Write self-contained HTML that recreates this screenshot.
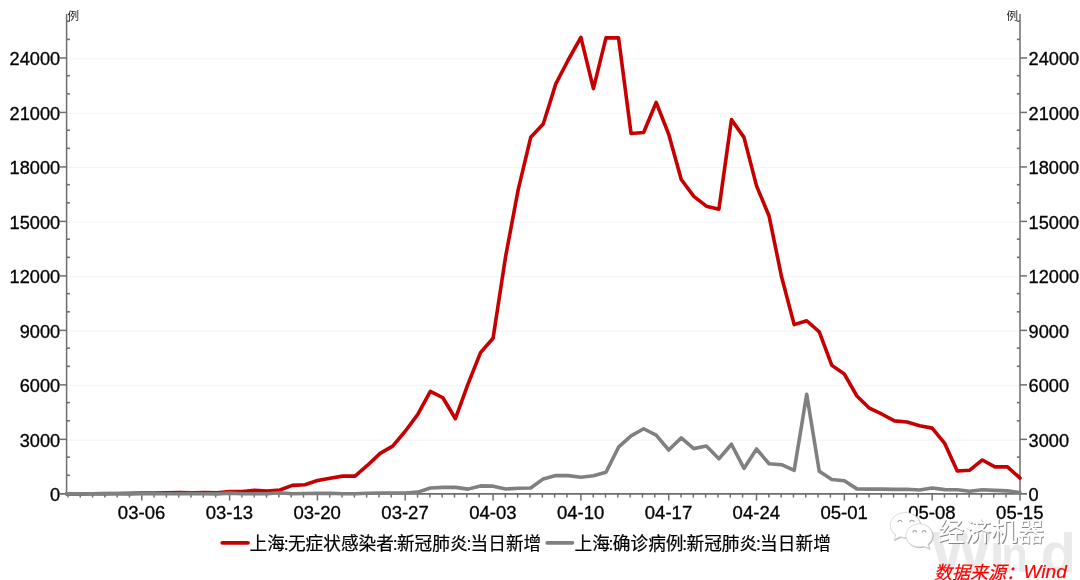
<!DOCTYPE html>
<html lang="zh-CN">
<head>
<meta charset="utf-8">
<title>上海:无症状感染者:新冠肺炎:当日新增</title>
<style>
html,body{margin:0;padding:0;background:#fff;}
body{width:1080px;height:580px;overflow:hidden;}
svg{display:block;}
</style>
</head>
<body>
<svg width="1080" height="580" viewBox="0 0 1080 580">
<rect width="1080" height="580" fill="#ffffff"/>
<text font-family="'Liberation Sans',sans-serif" font-weight="bold" fill="#eaeaea"><tspan x="930.54" y="572.00" font-size="57.85" textLength="61.13" lengthAdjust="spacingAndGlyphs">W</tspan><tspan x="989.58" y="572.00" font-size="54.93" textLength="15.19" lengthAdjust="spacingAndGlyphs">i</tspan><tspan x="1001.56" y="572.00" font-size="50.88" textLength="26.31" lengthAdjust="spacingAndGlyphs">n</tspan><tspan x="1040.84" y="571.77" font-size="54.60" textLength="35.15" lengthAdjust="spacingAndGlyphs">d</tspan></text>
<line x1="67" x2="1019.5" y1="440.16" y2="440.16" stroke="#f3f3f3" stroke-width="1"/>
<line x1="67" x2="1019.5" y1="385.68" y2="385.68" stroke="#f3f3f3" stroke-width="1"/>
<line x1="67" x2="1019.5" y1="331.19" y2="331.19" stroke="#f3f3f3" stroke-width="1"/>
<line x1="67" x2="1019.5" y1="276.70" y2="276.70" stroke="#f3f3f3" stroke-width="1"/>
<line x1="67" x2="1019.5" y1="222.21" y2="222.21" stroke="#f3f3f3" stroke-width="1"/>
<line x1="67" x2="1019.5" y1="167.73" y2="167.73" stroke="#f3f3f3" stroke-width="1"/>
<line x1="67" x2="1019.5" y1="113.24" y2="113.24" stroke="#f3f3f3" stroke-width="1"/>
<line x1="67" x2="1019.5" y1="58.75" y2="58.75" stroke="#f3f3f3" stroke-width="1"/>
<g stroke="#6e6e6e" stroke-width="1.5" fill="none">
<line x1="66.60" x2="66.60" y1="14" y2="494.60"/>
<line x1="1020.00" x2="1020.00" y1="14" y2="500.5"/>
<line x1="60" x2="1027" y1="493.85" y2="493.85" stroke-width="1.7"/>
</g>
<g stroke="#6e6e6e" stroke-width="1.5" fill="none">
<line x1="66.5" x2="69.9" y1="475.29" y2="475.29" stroke-width="1.6"/>
<line x1="1016.9" x2="1020" y1="475.29" y2="475.29" stroke-width="1.6"/>
<line x1="66.5" x2="69.9" y1="457.13" y2="457.13" stroke-width="1.6"/>
<line x1="1016.9" x2="1020" y1="457.13" y2="457.13" stroke-width="1.6"/>
<line x1="60" x2="66.5" y1="439.36" y2="439.36"/>
<line x1="1020" x2="1027" y1="439.36" y2="439.36"/>
<line x1="66.5" x2="69.9" y1="420.80" y2="420.80" stroke-width="1.6"/>
<line x1="1016.9" x2="1020" y1="420.80" y2="420.80" stroke-width="1.6"/>
<line x1="66.5" x2="69.9" y1="402.64" y2="402.64" stroke-width="1.6"/>
<line x1="1016.9" x2="1020" y1="402.64" y2="402.64" stroke-width="1.6"/>
<line x1="60" x2="66.5" y1="384.88" y2="384.88"/>
<line x1="1020" x2="1027" y1="384.88" y2="384.88"/>
<line x1="66.5" x2="69.9" y1="366.31" y2="366.31" stroke-width="1.6"/>
<line x1="1016.9" x2="1020" y1="366.31" y2="366.31" stroke-width="1.6"/>
<line x1="66.5" x2="69.9" y1="348.15" y2="348.15" stroke-width="1.6"/>
<line x1="1016.9" x2="1020" y1="348.15" y2="348.15" stroke-width="1.6"/>
<line x1="60" x2="66.5" y1="330.39" y2="330.39"/>
<line x1="1020" x2="1027" y1="330.39" y2="330.39"/>
<line x1="66.5" x2="69.9" y1="311.83" y2="311.83" stroke-width="1.6"/>
<line x1="1016.9" x2="1020" y1="311.83" y2="311.83" stroke-width="1.6"/>
<line x1="66.5" x2="69.9" y1="293.66" y2="293.66" stroke-width="1.6"/>
<line x1="1016.9" x2="1020" y1="293.66" y2="293.66" stroke-width="1.6"/>
<line x1="60" x2="66.5" y1="275.90" y2="275.90"/>
<line x1="1020" x2="1027" y1="275.90" y2="275.90"/>
<line x1="66.5" x2="69.9" y1="257.34" y2="257.34" stroke-width="1.6"/>
<line x1="1016.9" x2="1020" y1="257.34" y2="257.34" stroke-width="1.6"/>
<line x1="66.5" x2="69.9" y1="239.17" y2="239.17" stroke-width="1.6"/>
<line x1="1016.9" x2="1020" y1="239.17" y2="239.17" stroke-width="1.6"/>
<line x1="60" x2="66.5" y1="221.41" y2="221.41"/>
<line x1="1020" x2="1027" y1="221.41" y2="221.41"/>
<line x1="66.5" x2="69.9" y1="202.85" y2="202.85" stroke-width="1.6"/>
<line x1="1016.9" x2="1020" y1="202.85" y2="202.85" stroke-width="1.6"/>
<line x1="66.5" x2="69.9" y1="184.69" y2="184.69" stroke-width="1.6"/>
<line x1="1016.9" x2="1020" y1="184.69" y2="184.69" stroke-width="1.6"/>
<line x1="60" x2="66.5" y1="166.93" y2="166.93"/>
<line x1="1020" x2="1027" y1="166.93" y2="166.93"/>
<line x1="66.5" x2="69.9" y1="148.36" y2="148.36" stroke-width="1.6"/>
<line x1="1016.9" x2="1020" y1="148.36" y2="148.36" stroke-width="1.6"/>
<line x1="66.5" x2="69.9" y1="130.20" y2="130.20" stroke-width="1.6"/>
<line x1="1016.9" x2="1020" y1="130.20" y2="130.20" stroke-width="1.6"/>
<line x1="60" x2="66.5" y1="112.44" y2="112.44"/>
<line x1="1020" x2="1027" y1="112.44" y2="112.44"/>
<line x1="66.5" x2="69.9" y1="93.87" y2="93.87" stroke-width="1.6"/>
<line x1="1016.9" x2="1020" y1="93.87" y2="93.87" stroke-width="1.6"/>
<line x1="66.5" x2="69.9" y1="75.71" y2="75.71" stroke-width="1.6"/>
<line x1="1016.9" x2="1020" y1="75.71" y2="75.71" stroke-width="1.6"/>
<line x1="60" x2="66.5" y1="57.95" y2="57.95"/>
<line x1="1020" x2="1027" y1="57.95" y2="57.95"/>
<line x1="66.5" x2="69.9" y1="39.39" y2="39.39" stroke-width="1.6"/>
<line x1="1016.9" x2="1020" y1="39.39" y2="39.39" stroke-width="1.6"/>
<line x1="66.5" x2="69.9" y1="21.23" y2="21.23" stroke-width="1.6"/>
<line x1="1016.9" x2="1020" y1="21.23" y2="21.23" stroke-width="1.6"/>
<line x1="141.78" x2="141.78" y1="493.85" y2="500.5"/>
<line x1="229.60" x2="229.60" y1="493.85" y2="500.5"/>
<line x1="317.42" x2="317.42" y1="493.85" y2="500.5"/>
<line x1="405.24" x2="405.24" y1="493.85" y2="500.5"/>
<line x1="493.07" x2="493.07" y1="493.85" y2="500.5"/>
<line x1="580.89" x2="580.89" y1="493.85" y2="500.5"/>
<line x1="668.71" x2="668.71" y1="493.85" y2="500.5"/>
<line x1="756.53" x2="756.53" y1="493.85" y2="500.5"/>
<line x1="844.36" x2="844.36" y1="493.85" y2="500.5"/>
<line x1="932.18" x2="932.18" y1="493.85" y2="500.5"/>
<line x1="129.47" x2="129.47" y1="493.85" y2="497.6"/>
<line x1="117.16" x2="117.16" y1="493.85" y2="497.6"/>
<line x1="104.85" x2="104.85" y1="493.85" y2="497.6"/>
<line x1="92.54" x2="92.54" y1="493.85" y2="497.6"/>
<line x1="80.23" x2="80.23" y1="493.85" y2="497.6"/>
<line x1="67.92" x2="67.92" y1="493.85" y2="497.6"/>
<line x1="154.09" x2="154.09" y1="493.85" y2="497.6"/>
<line x1="166.40" x2="166.40" y1="493.85" y2="497.6"/>
<line x1="178.71" x2="178.71" y1="493.85" y2="497.6"/>
<line x1="191.02" x2="191.02" y1="493.85" y2="497.6"/>
<line x1="203.33" x2="203.33" y1="493.85" y2="497.6"/>
<line x1="215.64" x2="215.64" y1="493.85" y2="497.6"/>
<line x1="241.91" x2="241.91" y1="493.85" y2="497.6"/>
<line x1="254.22" x2="254.22" y1="493.85" y2="497.6"/>
<line x1="266.53" x2="266.53" y1="493.85" y2="497.6"/>
<line x1="278.84" x2="278.84" y1="493.85" y2="497.6"/>
<line x1="291.15" x2="291.15" y1="493.85" y2="497.6"/>
<line x1="303.46" x2="303.46" y1="493.85" y2="497.6"/>
<line x1="329.73" x2="329.73" y1="493.85" y2="497.6"/>
<line x1="342.04" x2="342.04" y1="493.85" y2="497.6"/>
<line x1="354.35" x2="354.35" y1="493.85" y2="497.6"/>
<line x1="366.66" x2="366.66" y1="493.85" y2="497.6"/>
<line x1="378.97" x2="378.97" y1="493.85" y2="497.6"/>
<line x1="391.28" x2="391.28" y1="493.85" y2="497.6"/>
<line x1="417.55" x2="417.55" y1="493.85" y2="497.6"/>
<line x1="429.86" x2="429.86" y1="493.85" y2="497.6"/>
<line x1="442.17" x2="442.17" y1="493.85" y2="497.6"/>
<line x1="454.48" x2="454.48" y1="493.85" y2="497.6"/>
<line x1="466.79" x2="466.79" y1="493.85" y2="497.6"/>
<line x1="479.10" x2="479.10" y1="493.85" y2="497.6"/>
<line x1="505.38" x2="505.38" y1="493.85" y2="497.6"/>
<line x1="517.69" x2="517.69" y1="493.85" y2="497.6"/>
<line x1="530.00" x2="530.00" y1="493.85" y2="497.6"/>
<line x1="542.31" x2="542.31" y1="493.85" y2="497.6"/>
<line x1="554.62" x2="554.62" y1="493.85" y2="497.6"/>
<line x1="566.93" x2="566.93" y1="493.85" y2="497.6"/>
<line x1="593.20" x2="593.20" y1="493.85" y2="497.6"/>
<line x1="605.51" x2="605.51" y1="493.85" y2="497.6"/>
<line x1="617.82" x2="617.82" y1="493.85" y2="497.6"/>
<line x1="630.13" x2="630.13" y1="493.85" y2="497.6"/>
<line x1="642.44" x2="642.44" y1="493.85" y2="497.6"/>
<line x1="654.75" x2="654.75" y1="493.85" y2="497.6"/>
<line x1="681.02" x2="681.02" y1="493.85" y2="497.6"/>
<line x1="693.33" x2="693.33" y1="493.85" y2="497.6"/>
<line x1="705.64" x2="705.64" y1="493.85" y2="497.6"/>
<line x1="717.95" x2="717.95" y1="493.85" y2="497.6"/>
<line x1="730.26" x2="730.26" y1="493.85" y2="497.6"/>
<line x1="742.57" x2="742.57" y1="493.85" y2="497.6"/>
<line x1="768.84" x2="768.84" y1="493.85" y2="497.6"/>
<line x1="781.15" x2="781.15" y1="493.85" y2="497.6"/>
<line x1="793.46" x2="793.46" y1="493.85" y2="497.6"/>
<line x1="805.77" x2="805.77" y1="493.85" y2="497.6"/>
<line x1="818.08" x2="818.08" y1="493.85" y2="497.6"/>
<line x1="830.39" x2="830.39" y1="493.85" y2="497.6"/>
<line x1="856.67" x2="856.67" y1="493.85" y2="497.6"/>
<line x1="868.98" x2="868.98" y1="493.85" y2="497.6"/>
<line x1="881.29" x2="881.29" y1="493.85" y2="497.6"/>
<line x1="893.60" x2="893.60" y1="493.85" y2="497.6"/>
<line x1="905.91" x2="905.91" y1="493.85" y2="497.6"/>
<line x1="918.22" x2="918.22" y1="493.85" y2="497.6"/>
<line x1="944.49" x2="944.49" y1="493.85" y2="497.6"/>
<line x1="956.80" x2="956.80" y1="493.85" y2="497.6"/>
<line x1="969.11" x2="969.11" y1="493.85" y2="497.6"/>
<line x1="981.42" x2="981.42" y1="493.85" y2="497.6"/>
<line x1="993.73" x2="993.73" y1="493.85" y2="497.6"/>
<line x1="1006.04" x2="1006.04" y1="493.85" y2="497.6"/>
</g>
<polyline points="66.50,493.85 79.05,493.83 91.59,493.76 104.14,493.60 116.68,493.56 129.23,493.34 141.78,493.03 154.32,492.93 166.87,492.73 179.41,492.47 191.96,492.69 204.51,492.44 217.05,492.69 229.60,491.53 242.14,491.49 254.69,490.28 267.24,491.13 279.78,489.95 292.33,485.36 304.88,484.69 317.42,480.54 329.97,478.16 342.51,476.13 355.06,476.10 367.61,465.20 380.15,453.39 392.70,446.14 405.24,431.28 417.79,414.40 430.34,391.28 442.88,397.77 455.43,418.70 467.97,384.12 480.52,352.62 493.07,338.23 505.61,256.54 518.16,189.80 530.70,137.32 543.25,123.93 555.80,83.84 568.34,59.75 580.89,37.34 593.43,88.57 605.98,37.92 618.53,37.83 631.07,133.47 643.62,132.55 656.16,102.46 668.71,134.22 681.26,179.54 693.80,196.31 706.35,206.21 718.89,209.17 731.44,119.65 743.99,137.37 756.53,185.86 769.08,216.04 781.62,277.03 794.17,324.65 806.72,320.75 819.26,331.87 831.81,365.38 844.36,374.05 856.90,396.01 869.45,408.22 881.99,414.24 894.54,420.88 907.09,422.02 919.63,425.66 932.18,428.11 944.72,443.43 957.27,471.02 969.82,470.18 982.36,459.96 994.91,466.88 1007.45,466.83 1020.00,478.09" fill="none" stroke="#c60000" stroke-width="3.6" stroke-linejoin="round" stroke-linecap="round"/>
<polyline points="66.50,493.85 79.05,493.83 91.59,493.80 104.14,493.81 116.68,493.80 129.23,493.85 141.78,493.80 154.32,493.78 166.87,493.80 179.41,493.78 191.96,493.65 204.51,493.76 217.05,493.83 229.60,493.11 242.14,493.69 254.69,493.76 267.24,493.70 279.78,492.82 292.33,493.70 304.88,493.54 317.42,493.41 329.97,493.29 342.51,493.78 355.06,493.78 367.61,493.32 380.15,493.16 392.70,493.03 405.24,492.94 417.79,492.11 430.34,487.94 442.88,487.41 455.43,487.36 467.97,489.13 480.52,485.91 493.07,486.14 505.61,488.99 518.16,488.21 530.70,488.01 543.25,478.91 555.80,475.44 568.34,475.61 580.89,477.27 593.43,475.82 605.98,472.29 618.53,447.19 631.07,435.82 643.62,428.75 656.16,435.13 668.71,450.02 681.26,437.92 693.80,448.62 706.35,446.08 718.89,458.83 731.44,444.23 743.99,468.44 756.53,449.02 769.08,463.73 781.62,464.73 794.17,470.42 806.72,394.34 819.26,471.20 831.81,479.56 844.36,480.67 856.90,488.88 869.45,489.13 881.99,489.12 894.54,489.41 907.09,489.26 919.63,489.95 932.18,488.01 944.72,489.61 957.27,489.72 969.82,491.24 982.36,489.73 994.91,490.33 1007.45,490.84 1020.00,492.60" fill="none" stroke="#808080" stroke-width="3.6" stroke-linejoin="round" stroke-linecap="round"/>
<g font-family="'Liberation Sans',sans-serif" font-size="18.2" fill="#000000" stroke="#000000" stroke-width="0.3">
<text x="60.2" y="501.05" text-anchor="end">0</text>
<text x="1028.6" y="501.05" text-anchor="start">0</text>
<text x="60.2" y="446.56" text-anchor="end">3000</text>
<text x="1028.6" y="446.56" text-anchor="start">3000</text>
<text x="60.2" y="392.07" text-anchor="end">6000</text>
<text x="1028.6" y="392.07" text-anchor="start">6000</text>
<text x="60.2" y="337.59" text-anchor="end">9000</text>
<text x="1028.6" y="337.59" text-anchor="start">9000</text>
<text x="60.2" y="283.10" text-anchor="end">12000</text>
<text x="1028.6" y="283.10" text-anchor="start">12000</text>
<text x="60.2" y="228.61" text-anchor="end">15000</text>
<text x="1028.6" y="228.61" text-anchor="start">15000</text>
<text x="60.2" y="174.12" text-anchor="end">18000</text>
<text x="1028.6" y="174.12" text-anchor="start">18000</text>
<text x="60.2" y="119.64" text-anchor="end">21000</text>
<text x="1028.6" y="119.64" text-anchor="start">21000</text>
<text x="60.2" y="65.15" text-anchor="end">24000</text>
<text x="1028.6" y="65.15" text-anchor="start">24000</text>
<text x="117.88" y="518.9" textLength="47.4" lengthAdjust="spacingAndGlyphs">03-06</text>
<text x="205.70" y="518.9" textLength="47.4" lengthAdjust="spacingAndGlyphs">03-13</text>
<text x="293.52" y="518.9" textLength="47.4" lengthAdjust="spacingAndGlyphs">03-20</text>
<text x="381.34" y="518.9" textLength="47.4" lengthAdjust="spacingAndGlyphs">03-27</text>
<text x="469.17" y="518.9" textLength="47.4" lengthAdjust="spacingAndGlyphs">04-03</text>
<text x="556.99" y="518.9" textLength="47.4" lengthAdjust="spacingAndGlyphs">04-10</text>
<text x="644.81" y="518.9" textLength="47.4" lengthAdjust="spacingAndGlyphs">04-17</text>
<text x="732.63" y="518.9" textLength="47.4" lengthAdjust="spacingAndGlyphs">04-24</text>
<text x="820.46" y="518.9" textLength="47.4" lengthAdjust="spacingAndGlyphs">05-01</text>
<text x="908.28" y="518.9" textLength="47.4" lengthAdjust="spacingAndGlyphs">05-08</text>
<text x="996.10" y="518.9" textLength="47.4" lengthAdjust="spacingAndGlyphs">05-15</text>
</g>
<g font-family="'Liberation Sans','Noto Sans CJK SC',sans-serif" font-size="11.6" fill="#222222">
<text x="67.6" y="19.8">例</text>
<text x="1006.4" y="19.8">例</text>
</g>
<line x1="222.3" x2="247.9" y1="542.85" y2="542.85" stroke="#c60000" stroke-width="3.9" stroke-linecap="round"/>
<line x1="547.3" x2="572.4" y1="542.85" y2="542.85" stroke="#808080" stroke-width="3.9" stroke-linecap="round"/>
<g font-family="'Liberation Sans','Noto Sans CJK SC',sans-serif" font-size="17.68" fill="#000000" stroke="#000000" stroke-width="0.2">
<text x="249.60 267.28 283.71 287.90 305.58 323.26 340.94 358.62 376.30 392.73 396.92 414.60 432.28 449.96 466.39 470.58 488.26 505.94 523.62" y="550.0">上海:无症状感染者:新冠肺炎:当日新增</text>
<text x="574.50 592.18 608.61 612.80 630.48 648.16 665.84 682.27 686.46 704.14 721.82 739.50 755.93 760.12 777.80 795.48 813.16" y="550.0">上海:确诊病例:新冠肺炎:当日新增</text>
</g>
<g id="wm">
<path d="M905.2 512.6c-8.3 0-15 5.6-15 12.5 0 3.9 2.1 7.3 5.400 9.600l-1.400 5.100 5.800-3.000c1.600 0.500 3.400 0.800 5.200 0.800 8.300 0 15-5.600 15-12.500s-6.700-12.500-15-12.500z" transform="translate(0.7 0.7)" fill="#a8a8a8" stroke="#a8a8a8" stroke-width="0.6"/>
<path d="M905.2 512.6c-8.3 0-15 5.6-15 12.5 0 3.9 2.1 7.3 5.400 9.600l-1.400 5.100 5.800-3.000c1.600 0.500 3.400 0.800 5.200 0.800 8.300 0 15-5.600 15-12.500s-6.700-12.500-15-12.500z" fill="#ffffff" stroke="#d8d8d8" stroke-width="0.9"/>
<path d="M897.80 522.30a2.10 2.10 0 0 1 4.20 0" fill="none" stroke="#a8a8a8" stroke-width="1.1"/>
<path d="M909.90 522.30a2.10 2.10 0 0 1 4.20 0" fill="none" stroke="#a8a8a8" stroke-width="1.1"/>
<path d="M919.200 523.700c7.400 0 13.300 5.300 13.300 11.800 0 3.500-1.800 6.700-4.600 8.800l1.300 4.500-5.200-2.600c-1.500 0.500-3.100 0.800-4.800 0.800-7.400 0-13.300-5.100-13.300-11.500s5.900-11.800 13.300-11.800z" transform="translate(0.7 0.7)" fill="#a8a8a8" stroke="#a8a8a8" stroke-width="0.6"/>
<path d="M919.200 523.700c7.400 0 13.300 5.300 13.300 11.800 0 3.500-1.800 6.700-4.600 8.800l1.300 4.500-5.200-2.600c-1.500 0.500-3.100 0.800-4.800 0.800-7.400 0-13.300-5.100-13.300-11.500s5.900-11.800 13.300-11.800z" fill="#ffffff" stroke="#d8d8d8" stroke-width="0.9"/>
<path d="M912.90 532.50a1.90 1.90 0 0 1 3.80 0" fill="none" stroke="#a8a8a8" stroke-width="1.1"/>
<path d="M922.20 532.50a1.90 1.90 0 0 1 3.80 0" fill="none" stroke="#a8a8a8" stroke-width="1.1"/>
<g font-family="'Liberation Sans','Noto Sans CJK SC',sans-serif" font-size="26.6">
<text x="937.9" y="541.1" fill="#ffffff" style="text-shadow:0.9px 0.9px 0 #858585">经济机器</text>
</g>
</g>
<text x="934.1" y="578.7" font-family="'Liberation Sans','Noto Sans CJK SC',sans-serif" font-size="18" font-style="italic" fill="#ff0000" stroke="#ff0000" stroke-width="0.25">数据来源：<tspan x="1023.5" y="577.85" font-size="19.1" stroke-width="0.2">Wind</tspan></text>
</svg>
</body>
</html>
